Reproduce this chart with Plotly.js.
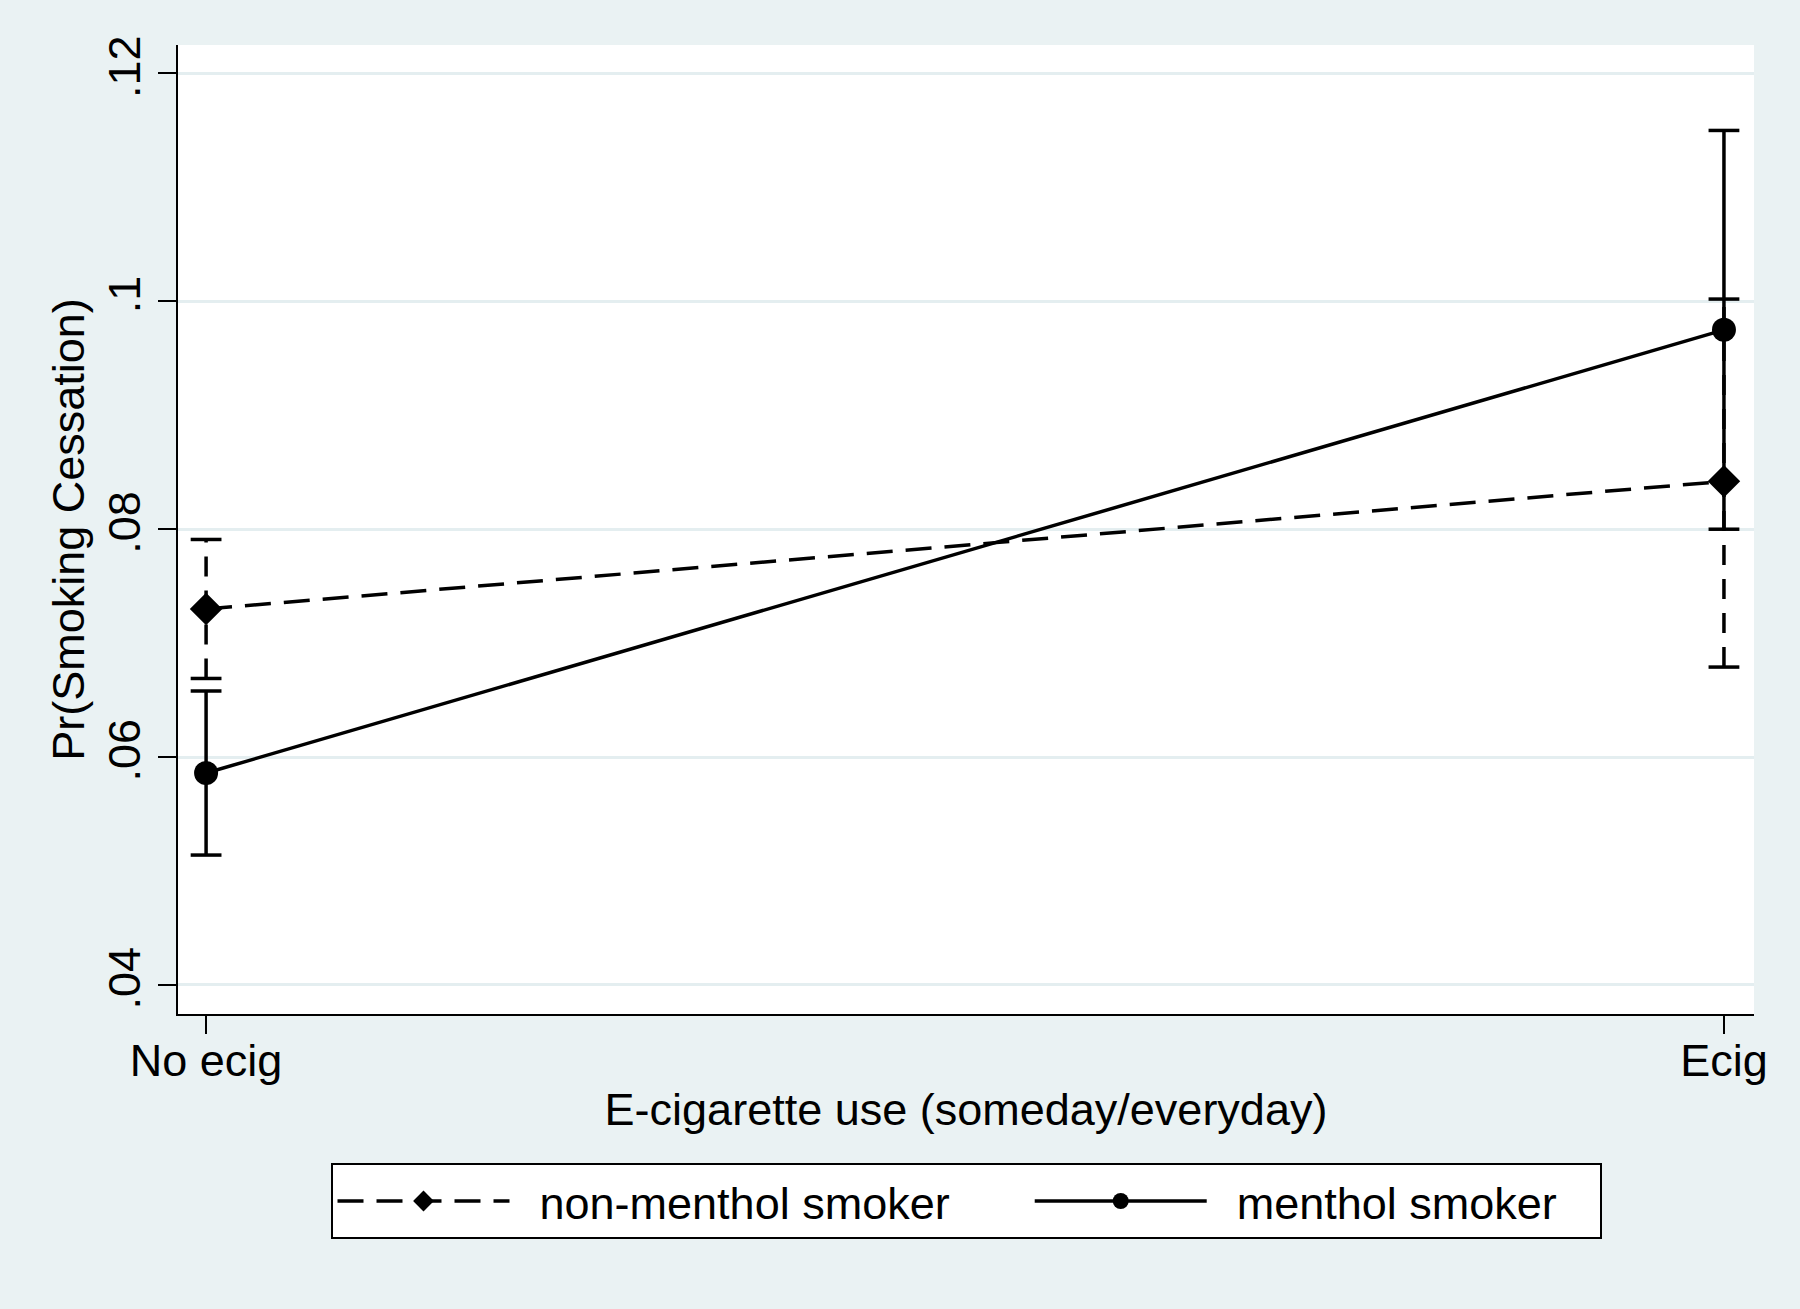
<!DOCTYPE html>
<html>
<head>
<meta charset="utf-8">
<script src="https://cdn.plot.ly/plotly-3.0.1.min.js"></script>
<style>
  body { margin: 0; background: #eaf2f3; }
  #chart { width: 1800px; height: 1309px; }
</style>
</head>
<body>
<div id="chart"></div>
<script>
// categories on the x axis (0 = no e-cig, 1 = e-cig)
var catPos = [0, 1];
var catLabels = ['No ecig', 'Ecig'];

// predicted probabilities and 95% CI
var nonMenthol = [0.0730, 0.0842];
var nonMentholLo = [0.0669, 0.0679];
var nonMentholHi = [0.0791, 0.1002];

var menthol = [0.0586, 0.0975];
var mentholLo = [0.0514, 0.0800];
var mentholHi = [0.0658, 0.1150];

var yTicks = [0.04, 0.06, 0.08, 0.10, 0.12];
var yTickText = ['.04', '.06', '.08', '.1', '.12'];

var FONT = 'Liberation Sans, Arial, sans-serif';
var SP = '&nbsp;';

// CI caps as vertical segments: lo -> hi for each category
function capTrace(lo, hi, dash) {
  var x = [], y = [];
  for (var i = 0; i < catPos.length; i++) {
    x.push(catPos[i], catPos[i], null);
    y.push(lo[i], hi[i], null);
  }
  return {
    x: x, y: y,
    mode: 'lines+markers',
    line: {color: 'black', width: 3.5, dash: dash},
    marker: {symbol: 'line-ew', size: 22, line: {color: 'black', width: 3.5}},
    showlegend: false,
    hoverinfo: 'skip'
  };
}

var trace1 = {
  x: catPos, y: nonMenthol,
  mode: 'lines+markers',
  name: SP + SP + 'non-menthol smoker' + SP.repeat(6),
  line: {color: 'black', width: 3.5, dash: '26px,13px'},
  marker: {symbol: 'diamond', size: 25, color: 'black'}
};

var trace2 = {
  x: catPos, y: menthol,
  mode: 'lines+markers',
  name: SP + SP + 'menthol smoker' + SP.repeat(3),
  line: {color: 'black', width: 3.5},
  marker: {symbol: 'circle', size: 24, color: 'black'}
};

var data = [
  capTrace(nonMentholLo, nonMentholHi, '20px,14px'),
  capTrace(mentholLo, mentholHi, 'solid'),
  trace1, trace2
];

var layout = {
  width: 1800,
  height: 1309,
  margin: {l: 178, r: 46, t: 45, b: 295},
  paper_bgcolor: '#eaf2f3',
  plot_bgcolor: 'white',
  font: {family: FONT, size: 45, color: 'black'},
  xaxis: {
    range: [-0.0185, 1.0198],
    tickvals: catPos,
    ticktext: catLabels,
    ticks: 'outside',
    ticklen: 18,
    tickwidth: 2,
    tickcolor: 'black',
    ticklabelstandoff: -12,
    showline: true,
    linecolor: 'black',
    linewidth: 2,
    showgrid: false,
    zeroline: false,
    tickfont: {size: 45},
    title: {text: 'E-cigarette use (someday/everyday)', font: {size: 45}, standoff: 8}
  },
  yaxis: {
    range: [0.03745, 0.1225],
    tickvals: yTicks,
    ticktext: yTickText,
    tickangle: -90,
    ticks: 'outside',
    ticklen: 18,
    tickwidth: 2,
    tickcolor: 'black',
    showline: true,
    linecolor: 'black',
    linewidth: 2,
    showgrid: true,
    gridcolor: '#e4eef0',
    gridwidth: 3,
    zeroline: false,
    tickfont: {size: 45},
    title: {text: 'Pr(Smoking Cessation)', font: {size: 45}, standoff: 0}
  },
  showlegend: true,
  legend: {
    orientation: 'h',
    x: 0.5,
    xanchor: 'center',
    y: -0.154,
    yanchor: 'top',
    bgcolor: 'white',
    bordercolor: 'black',
    borderwidth: 2,
    itemwidth: 172,
    font: {family: FONT, size: 45, color: 'black'}
  }
};

Plotly.newPlot('chart', data, layout, {displayModeBar: false, staticPlot: true});
</script>
</body>
</html>
